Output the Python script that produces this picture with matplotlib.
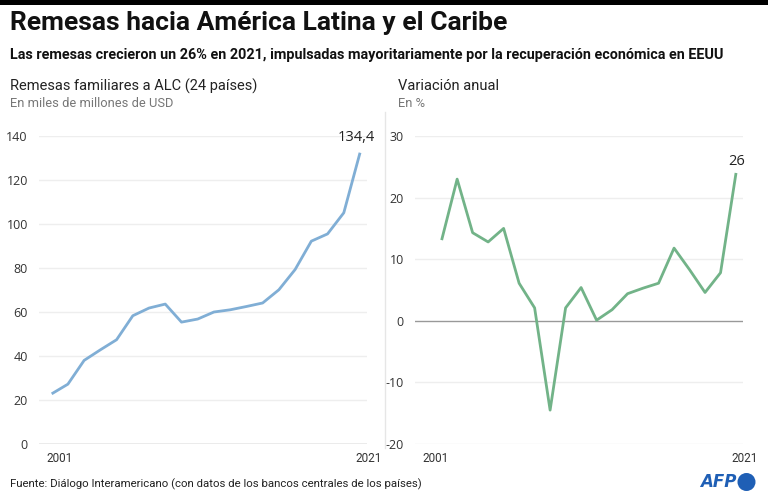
import matplotlib
matplotlib.use('Agg')
import matplotlib.pyplot as plt
import matplotlib.transforms as mtransforms
from matplotlib.patches import Circle, Rectangle

# data (20 yearly points each)
years = list(range(2002, 2022))
remesas = [22.8, 27.2, 38.0, 42.8, 47.4, 58.3, 61.8, 63.6, 55.4, 56.8,
           60.0, 61.0, 62.5, 64.1, 70.1, 79.3, 92.2, 95.5, 105.1, 132.4]
variacion = [13.1, 23.0, 14.3, 12.8, 15.0, 6.1, 2.1, -14.5, 2.1, 5.4,
             0.1, 1.8, 4.4, 5.3, 6.1, 11.8, 8.3, 4.6, 7.8, 24.0]
left_ticks = [0, 20, 40, 60, 80, 100, 120, 140]
right_ticks = [-20, -10, 0, 10, 20, 30]
x_labels = ["2001", "2021"]

BLUE = "#80aed5"
GREEN = "#72b388"
NARROW = ["Roboto", "DejaVu Sans"]
TICKFONT = ["Open Sans", "DejaVu Sans"]

fig = plt.figure(figsize=(7.68, 5.01), dpi=100)
fig.add_artist(Rectangle((0, 1 - 5 / 501), 1, 5 / 501, transform=fig.transFigure,
                         color="black", lw=0))

fig.text(10 / 768, 1 - 23 / 501, "Remesas hacia América Latina y el Caribe",
         fontsize=19, fontweight="bold", family=NARROW, va="center", color="#111111")
fig.text(10 / 768, 1 - 55 / 501,
         "Las remesas crecieron un 26% en 2021, impulsadas mayoritariamente por la recuperación económica en EEUU",
         fontsize=10.4, fontweight="bold", family=NARROW, va="center", color="#111111")
fig.text(10 / 768, 1 - 86 / 501, "Remesas familiares a ALC (24 países)",
         fontsize=10.5, family=NARROW, va="center", color="#222222")
fig.text(10 / 768, 1 - 104 / 501, "En miles de millones de USD",
         fontsize=9.3, family=NARROW, va="center", color="#777777")
fig.text(398 / 768, 1 - 86 / 501, "Variación anual",
         fontsize=10.5, family=NARROW, va="center", color="#222222")
fig.text(398 / 768, 1 - 104 / 501, "En %",
         fontsize=9.3, family=NARROW, va="center", color="#777777")
fig.text(10 / 768, 1 - 484 / 501,
         "Fuente: Diálogo Interamericano (con datos de los bancos centrales de los países)",
         fontsize=8.2, family=NARROW, va="center", color="#222222")

# separator between panels
fig.add_artist(plt.Line2D([385 / 768, 385 / 768], [1 - 448 / 501, 1 - 112 / 501],
                          transform=fig.transFigure, color="#e6e6e6", lw=1))

# AFP logo
fig.text(736 / 768, 1 - 482 / 501, "AFP", fontsize=12, fontweight="bold",
         fontstyle="italic", color="#1f5fb5", ha="right", va="center",
         family=["DejaVu Sans"])
fig.add_artist(Circle((7.465, 5.01 - 4.82), 0.09, transform=fig.dpi_scale_trans,
                      color="#1f5fb5", lw=0))

bottom = 1 - 444 / 501
height = (444 - 136) / 501
ax1 = fig.add_axes([39 / 768, bottom, (367 - 39) / 768, height])
ax2 = fig.add_axes([415 / 768, bottom, (743 - 415) / 768, height])


def style(ax, ticks):
    for s in ax.spines.values():
        s.set_visible(False)
    ax.set_yticks(ticks)
    ax.set_yticklabels([str(t) for t in ticks], family=TICKFONT, fontsize=9,
                       color="#333333")
    for t in ticks:
        if t == 0:
            ax.axhline(t, color="#999999", lw=1, zorder=1)
        else:
            ax.axhline(t, color="#eeeeee", lw=1, zorder=0)
    ax.tick_params(length=0, pad=8)
    ax.set_xticks([])
    # year labels at the panel ends
    tr_l = ax.transAxes + mtransforms.ScaledTranslation(0.07, -0.14, fig.dpi_scale_trans)
    tr_r = ax.transAxes + mtransforms.ScaledTranslation(0.15, -0.14, fig.dpi_scale_trans)
    ax.text(0, 0, x_labels[0], transform=tr_l, ha="left", va="center",
            family=NARROW, fontsize=8.5, color="#333333")
    ax.text(1, 0, x_labels[1], transform=tr_r, ha="right", va="center",
            family=NARROW, fontsize=8.5, color="#333333")


style(ax1, left_ticks)
ax1.plot(years, remesas, color=BLUE, lw=2, solid_capstyle="butt", zorder=3)
ax1.set_xlim(2001.22, 2021.43)
ax1.set_ylim(0, 140)
ax1.text(2020.78, 139.1, "134,4", ha="center", va="center", fontsize=10.5,
         family=TICKFONT, color="#222222", clip_on=False)

style(ax2, right_ticks)
ax2.plot(years, variacion, color=GREEN, lw=2, solid_capstyle="butt", zorder=3)
ax2.set_xlim(2000.28, 2021.45)
ax2.set_ylim(-20, 30)
ax2.text(2021.05, 25.9, "26", ha="center", va="center", fontsize=10.5,
         family=TICKFONT, color="#222222", clip_on=False)

fig.savefig("out.png", dpi=100)
